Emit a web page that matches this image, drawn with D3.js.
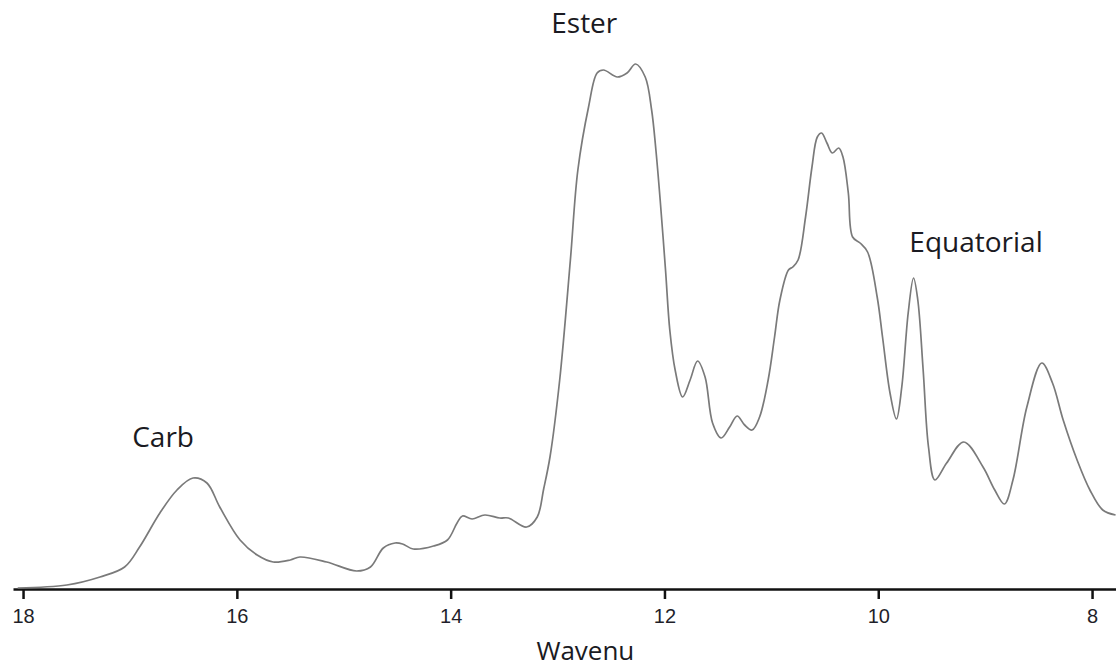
<!DOCTYPE html>
<html>
<head>
<meta charset="utf-8">
<script src="https://cdn.jsdelivr.net/npm/d3@7/dist/d3.min.js"></script>
<style>
  html, body { margin: 0; padding: 0; background: #fff; }
  svg { display: block; }
</style>
</head>
<body>
<svg id="chart" width="1116" height="669"></svg>
<script>
// Wavenumber positions (x) and signal intensity (arbitrary units)
const wavenumbers = [18.05, 17.59, 17.28, 17.05, 16.91, 16.72, 16.56, 16.41, 16.28, 16.16, 15.97, 15.81, 15.66, 15.50, 15.41, 15.16, 14.88, 14.75, 14.63, 14.52, 14.45, 14.35, 14.16, 14.03, 13.94, 13.89, 13.80, 13.68, 13.54, 13.46, 13.29, 13.19, 13.13, 13.07, 12.98, 12.88, 12.81, 12.71, 12.63, 12.57, 12.44, 12.35, 12.27, 12.18, 12.12, 12.08, 12.04, 11.99, 11.95, 11.90, 11.83, 11.76, 11.69, 11.62, 11.55, 11.47, 11.39, 11.32, 11.25, 11.18, 11.11, 11.03, 10.97, 10.92, 10.84, 10.80, 10.75, 10.68, 10.62, 10.57, 10.53, 10.48, 10.43, 10.37, 10.33, 10.28, 10.24, 10.17, 10.10, 10.01, 9.96, 9.89, 9.83, 9.78, 9.72, 9.67, 9.63, 9.58, 9.53, 9.47, 9.36, 9.20, 9.02, 8.91, 8.82, 8.74, 8.61, 8.47, 8.37, 8.27, 8.14, 8.02, 7.90, 7.78];
const intensity = [0.2, 0.8, 2.4, 4.4, 8.4, 15.2, 19.8, 22.2, 21.2, 16.4, 9.8, 6.8, 5.4, 5.8, 6.4, 5.4, 3.6, 4.4, 8.2, 9.2, 9.0, 8.0, 8.6, 9.8, 13.2, 14.6, 14.0, 14.8, 14.2, 14.2, 12.4, 14.4, 20.0, 26.5, 41.8, 65.8, 83.8, 96.4, 103.2, 103.8, 102.4, 103.2, 105.0, 102.4, 95.8, 87.8, 77.8, 63.8, 51.8, 43.8, 38.4, 41.8, 45.6, 42.4, 33.2, 30.2, 32.4, 34.6, 32.8, 31.8, 34.4, 41.8, 50.4, 57.8, 63.8, 64.4, 65.8, 74.4, 84.4, 90.4, 91.2, 89.2, 87.2, 88.2, 86.4, 79.2, 70.4, 69.2, 67.4, 58.4, 50.4, 39.2, 34.0, 40.4, 55.2, 62.2, 57.8, 43.8, 28.4, 21.8, 25.2, 29.4, 24.4, 19.8, 17.0, 21.8, 36.4, 45.2, 41.2, 33.8, 25.8, 19.8, 15.8, 14.8];

const tickValues = [18, 16, 14, 12, 10, 8];
const peakNames = ["Carb", "Ester", "Equatorial"];
const peakPositions = [16.69, 12.75, 9.085];
const peakLabelLevels = [28.4, 111.2, 67.4];
const axisTitle = "Wavenu";

const svg = d3.select("#chart");

const x = d3.scaleLinear().domain([18.094, 7.776]).range([13, 1116]);
const y = d3.scaleLinear().domain([0, 105]).range([589, 64]);

const data = wavenumbers.map((w, i) => ({ w, v: intensity[i] }));

// Axis
const axis = d3.axisBottom(x)
  .tickValues(tickValues)
  .tickSize(10)
  .tickSizeOuter(0)
  .tickPadding(10)
  .tickFormat(d3.format("d"));

const gAxis = svg.append("g")
  .attr("transform", "translate(0,589)")
  .call(axis);

gAxis.select(".domain").attr("stroke", "#111").attr("stroke-width", 2.5);
gAxis.selectAll(".tick line").attr("stroke", "#111").attr("stroke-width", 2.5);
gAxis.selectAll(".tick text")
  .attr("fill", "#1f1f2a")
  .style("font-family", "'Liberation Sans', Arial, sans-serif")
  .style("font-size", "20px");

// Curve
const line = d3.line()
  .x(d => x(d.w))
  .y(d => y(d.v))
  .curve(d3.curveCatmullRom.alpha(0.5));

svg.append("path")
  .datum(data)
  .attr("d", line)
  .attr("fill", "none")
  .attr("stroke", "#7a7a7a")
  .attr("stroke-width", 1.7);

// Peak labels
svg.selectAll(".peak-label")
  .data(peakNames)
  .enter()
  .append("text")
  .attr("class", "peak-label")
  .attr("x", (d, i) => x(peakPositions[i]))
  .attr("y", (d, i) => y(peakLabelLevels[i]))
  .attr("text-anchor", "middle")
  .attr("fill", "#1a1a22")
  .style("font-family", "'Open Sans', sans-serif")
  .style("font-size", "28px")
  .text(d => d);

// Axis title
svg.append("text")
  .attr("x", x(12.74))
  .attr("y", 660)
  .attr("text-anchor", "middle")
  .attr("fill", "#1a1a22")
  .style("font-family", "'Open Sans', sans-serif")
  .style("font-size", "26px")
  .text(axisTitle);
</script>
</body>
</html>
